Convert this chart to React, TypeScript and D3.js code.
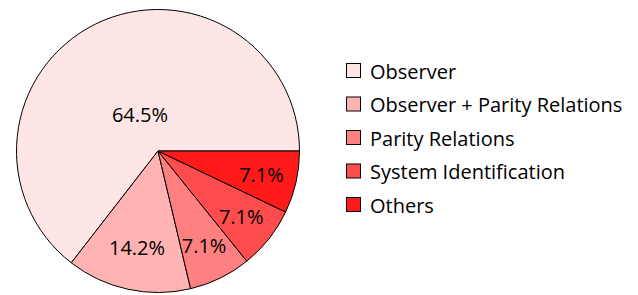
import React, { useEffect, useRef } from 'react';
import * as d3 from 'd3';

const categories = ['Observer', 'Observer + Parity Relations', 'Parity Relations', 'System Identification', 'Others'];
const values = [64.5, 14.2, 7.1, 7.1, 7.1];
const colors = ['#ffe6e6', '#ffb3b3', '#ff8080', '#ff4d4d', '#ff1a1a'];
// label distance as share of radius
const labelDist = [0.29, 0.7, 0.74, 0.75, 0.75];

const width = 638;
const height = 295;

const App = () => {
  const svgRef = useRef<SVGSVGElement>(null);

  useEffect(() => {
    const svg = d3.select(svgRef.current);
    svg.selectAll('*').remove();

    const cx = 158, cy = 151, r = 141.5;
    const font = "'Open Sans', Lato, sans-serif";

    // start at east, go counterclockwise
    const pie = d3.pie<number>().sort(null).startAngle(Math.PI / 2).endAngle(Math.PI / 2 - 2 * Math.PI);
    const arcs = pie(values);
    const arc = d3.arc<d3.PieArcDatum<number>>().innerRadius(0).outerRadius(r);

    const g = svg.append('g').attr('transform', `translate(${cx},${cy})`);
    g.selectAll('path')
      .data(arcs)
      .join('path')
      .attr('d', arc)
      .attr('fill', (_, i) => colors[i])
      .attr('stroke', '#000')
      .attr('stroke-width', 1)
      .attr('stroke-linejoin', 'round');

    g.selectAll('text')
      .data(arcs)
      .join('text')
      .attr('x', (d, i) => Math.sin((d.startAngle + d.endAngle) / 2) * r * labelDist[i])
      .attr('y', (d, i) => -Math.cos((d.startAngle + d.endAngle) / 2) * r * labelDist[i])
      .attr('text-anchor', 'middle')
      .attr('dominant-baseline', 'central')
      .attr('font-family', font)
      .attr('font-size', 20)
      .attr('fill', '#000')
      .text(d => d.data.toFixed(1) + '%');

    const legend = svg.append('g').attr('transform', 'translate(346,63)');
    const rows = legend.selectAll('g')
      .data(categories)
      .join('g')
      .attr('transform', (_, i) => `translate(0,${i * 33.5})`);
    rows.append('rect')
      .attr('x', 0.5).attr('y', 0.5)
      .attr('width', 14).attr('height', 14)
      .attr('fill', (_, i) => colors[i])
      .attr('stroke', '#000')
      .attr('stroke-width', 1);
    rows.append('text')
      .attr('x', 24)
      .attr('y', 15.5)
      .attr('font-family', font)
      .attr('font-size', 20)
      .attr('fill', '#000')
      .text(d => d);
  }, []);

  return (
    <svg ref={svgRef} width={width} height={height}
      style={{ position: 'absolute', left: 0, top: 0, background: '#fff' }} />
  );
};

export default App;
